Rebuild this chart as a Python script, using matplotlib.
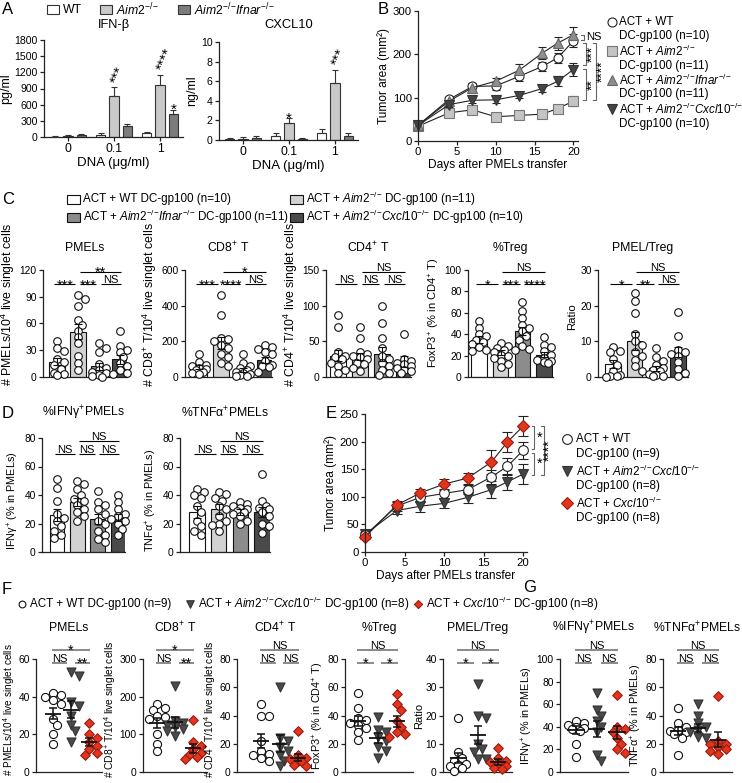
import numpy as np
import matplotlib
matplotlib.use("Agg")
import matplotlib.pyplot as plt
from matplotlib.patches import Rectangle

plt.rcParams['font.family'] = ['Liberation Sans', 'DejaVu Sans']
plt.rcParams['mathtext.fontset'] = 'custom'
plt.rcParams['mathtext.rm'] = 'Liberation Sans'
plt.rcParams['mathtext.it'] = 'Liberation Sans:italic'
plt.rcParams['mathtext.bf'] = 'Liberation Sans:bold'
plt.rcParams['mathtext.sf'] = 'Liberation Sans'
plt.rcParams['axes.linewidth'] = 0.9
plt.rcParams['axes.edgecolor'] = '#222222'

# ---------------- Panel A data ----------------
dna_doses = ['0', '0.1', '1']
ifnb_wt = [5, 35, 65]
ifnb_wt_err = [5, 30, 30]
ifnb_aim2 = [15, 770, 970]
ifnb_aim2_err = [15, 150, 180]
ifnb_dko = [30, 200, 420]
ifnb_dko_err = [20, 50, 90]
ifnb_stars = [['', '', ''], ['', '***', '****'], ['', '', '*']]
cxcl10_wt = [0.1, 0.45, 0.75]
cxcl10_wt_err = [0.15, 0.25, 0.35]
cxcl10_aim2 = [0.1, 1.7, 5.85]
cxcl10_aim2_err = [0.2, 0.55, 1.3]
cxcl10_dko = [0.2, 0.15, 0.4]
cxcl10_dko_err = [0.2, 0.1, 0.3]
cxcl10_stars = [['', '', ''], ['', '*', '***'], ['', '', '']]

# ---------------- Panel B data ----------------
b_days = [0, 4, 7, 10, 13, 16, 18, 20]
b_wt = [36, 96, 126, 127, 149, 172, 192, 231]
b_wt_err = [4, 6, 8, 9, 10, 10, 12, 15]
b_aim2 = [34, 65, 72, 56, 59, 62, 75, 92]
b_aim2_err = [3, 5, 9, 4, 4, 4, 7, 12]
b_ifnar = [36, 92, 123, 138, 163, 203, 226, 245]
b_ifnar_err = [3, 6, 8, 8, 14, 14, 15, 18]
b_cxcl = [36, 84, 94, 95, 105, 121, 138, 165]
b_cxcl_err = [3, 5, 6, 7, 5, 7, 12, 15]

# ---------------- Panel C data ----------------
c_pmels = [[40, 33, 29, 20, 17, 14, 9, 5, 3, 2],
           [92, 88, 80, 64, 58, 52, 45, 38, 24, 16, 8],
           [38, 33, 28, 15, 10, 8, 6, 4, 2, 1, 0.5],
           [52, 35, 30, 28, 22, 16, 12, 8, 5, 3]]
c_pmels_mean = [17, 51, 12, 20]
c_pmels_sem = [4, 8, 4, 5]
c_cd8 = [[130, 85, 70, 60, 50, 45, 40, 30, 25, 15],
         [460, 350, 220, 215, 200, 180, 160, 130, 110, 80, 60],
         [130, 80, 60, 50, 40, 30, 20, 15, 10, 5, 5],
         [180, 170, 155, 140, 130, 90, 65, 60, 55, 30]]
c_cd8_mean = [55, 190, 40, 95]
c_cd8_sem = [10, 35, 10, 18]
c_cd4 = [[87, 70, 35, 30, 28, 25, 20, 15, 10, 5],
         [70, 55, 35, 32, 30, 28, 25, 20, 18, 12, 8],
         [100, 75, 55, 40, 30, 25, 20, 15, 10, 5, 3],
         [60, 25, 22, 20, 18, 15, 12, 10, 8, 5]]
c_cd4_mean = [30, 29, 32, 22]
c_cd4_sem = [8, 5, 10, 8]
c_treg = [[52, 46, 40, 38, 35, 33, 31, 28, 25, 24],
          [32, 29, 27, 25, 23, 21, 20, 18, 15, 12, 9],
          [70, 62, 55, 49, 46, 43, 38, 35, 29, 26, 25],
          [37, 30, 28, 24, 21, 18, 16, 15, 14, 13]]
c_treg_mean = [35, 23, 43, 21]
c_treg_sem = [3, 2, 4, 2.5]
c_ratio = [[8.4, 7.2, 7.0, 5.0, 3.5, 1.8, 0.5, 0.3, 0.2, 0.1],
           [23.6, 21.4, 17.9, 12.1, 10, 9, 7, 6, 4.7, 3, 1.8],
           [8, 5.5, 4.4, 3.5, 2.6, 2, 1.6, 0.9, 0.5, 0.3, 0.2],
           [18.3, 11.6, 7.5, 6.9, 6.5, 6.0, 4.2, 2.2, 1.0, 0.2]]
c_ratio_mean = [3.7, 10.1, 2.4, 7.0]
c_ratio_sem = [1.2, 2.5, 0.8, 1.5]
c_sig_pmels = ['***', '***', 'NS', '**']
c_sig_cd8 = ['***', '****', 'NS', '*']
c_sig_cd4 = ['NS', 'NS', 'NS', 'NS']
c_sig_treg = ['*', '***', '****', 'NS']
c_sig_ratio = ['*', '**', 'NS', 'NS']

# ---------------- Panel D data ----------------
d_ifng = [[51, 45, 36, 27, 24, 22, 18, 15, 12, 10],
          [50, 48, 44, 40, 37, 36, 33, 30, 28, 25, 22],
          [43, 35, 33, 30, 27, 22, 20, 15, 12, 9, 7],
          [40, 35, 30, 27, 25, 23, 22, 20, 16, 12]]
d_ifng_mean = [26, 35, 23, 24]
d_ifng_sem = [4.5, 3, 3.5, 2.5]
d_tnfa = [[44, 42, 40, 38, 32, 28, 22, 18, 15, 12],
          [42, 41, 38, 36, 32, 30, 25, 22, 20, 19, 15],
          [35, 34, 32, 31, 30, 29, 28, 27, 25, 22, 20],
          [55, 36, 32, 31, 30, 28, 25, 20, 18, 13]]
d_tnfa_mean = [28, 30, 28, 28]
d_tnfa_sem = [4, 3.5, 2, 3.5]
d_sig = ['NS', 'NS', 'NS', 'NS']

# ---------------- Panel E data ----------------
e_days = [0, 4, 7, 10, 13, 16, 18, 20]
e_wt = [30, 83, 99, 106, 113, 136, 155, 184]
e_wt_err = [4, 8, 8, 8, 8, 12, 15, 15]
e_dko = [32, 75, 83, 88, 99, 113, 127, 141]
e_dko_err = [5, 7, 10, 8, 10, 15, 15, 18]
e_cxcl = [27, 85, 107, 123, 134, 163, 199, 228]
e_cxcl_err = [3, 8, 8, 10, 10, 22, 18, 18]

# ---------------- Panel F / G data ----------------
f_pmels = [[42, 41, 40, 38, 36, 28, 25, 20, 15],
           [53, 51, 37, 35, 30, 25, 22, 16],
           [26, 20, 18, 16, 14, 12, 10, 9]]
f_pmels_mean = [31, 33, 16]
f_pmels_sem = [3, 4.5, 2]
f_cd8 = [[180, 170, 165, 150, 145, 140, 100, 75, 55],
         [228, 135, 130, 125, 120, 115, 110, 95],
         [138, 80, 70, 60, 50, 45, 40, 35]]
f_cd8_mean = [131, 132, 63]
f_cd8_sem = [13, 14, 12]
f_cd4 = [[48, 40, 40, 22, 15, 13, 12, 10, 8],
         [60, 24, 22, 18, 15, 12, 8, 4],
         [29, 12, 10, 9, 8, 7, 5, 4]]
f_cd4_mean = [22, 20, 10]
f_cd4_sem = [5, 6, 2.5]
f_treg = [[56, 45, 38, 37, 35, 33, 31, 28, 23],
          [39, 30, 28, 25, 22, 18, 15, 10],
          [55, 48, 44, 36, 32, 28, 27, 25]]
f_treg_mean = [36, 24, 36]
f_treg_sem = [3.5, 3.5, 4]
f_ratio = [[19, 7, 5, 4, 3, 2.5, 2, 1.5, 0.5],
           [31, 20, 19, 10, 8, 7, 4.5, 4.5],
           [8.5, 5, 4, 3.5, 3, 2, 1.5, 1]]
f_ratio_mean = [4.9, 13, 3.6]
f_ratio_sem = [1.8, 3.2, 1]
g_ifng = [[45, 43, 42, 40, 39, 38, 36, 25, 13],
          [70, 55, 50, 45, 40, 35, 15, 10],
          [68, 40, 38, 35, 30, 25, 20, 17]]
g_ifng_mean = [37, 38, 35]
g_ifng_sem = [3.5, 7, 6]
g_tnfa = [[45, 35, 32, 30, 29, 28, 27, 24, 12],
          [48, 40, 35, 32, 30, 28, 25, 24],
          [54, 22, 20, 20, 18, 16, 15, 13]]
g_tnfa_mean = [29, 31, 23]
g_tnfa_sem = [3, 3, 5]
f_sig_pmels = ['NS', '**', '*']
f_sig_cd8 = ['NS', '**', '*']
f_sig_cd4 = ['NS', 'NS', 'NS']
f_sig_treg = ['*', '*', 'NS']
f_sig_ratio = ['*', '*', 'NS']
g_sig = ['NS', 'NS', 'NS']

# ======================================================================
W, H = 742, 783
fig = plt.figure(figsize=(W / 100, H / 100), dpi=100)

TICK_FS = 7.4
NS_FS = 8
STAR_FS = 10.5
TITLE_FS = 8.8
KO = r'^{{-}/{-}}'
PLUS = r'$^{{+}}$'


def add_ax(L, T, R, B, tick_fs=TICK_FS):
    ax = fig.add_axes([L / W, 1 - B / H, (R - L) / W, (B - T) / H])
    ax.spines['top'].set_visible(False)
    ax.spines['right'].set_visible(False)
    ax.tick_params(direction='out', length=3, width=0.9, labelsize=tick_fs, pad=1.5, color='#222222')
    ax.patch.set_alpha(0)
    return ax


def title_at(ax, T, B, y_px, text, fs=TITLE_FS):
    ax.text(0.5, 1 + (T - y_px) / (B - T), text, transform=ax.transAxes,
            ha='center', va='center', fontsize=fs, clip_on=False)


def swarm(vals, ppx, ppy, d=6.0, step=3.5):
    vals = np.asarray(vals, float)
    order = np.argsort(-vals, kind='stable')
    placed = []
    offs = np.zeros(len(vals))
    cand = [0.0, step, -step, 2 * step, -2 * step]
    for i in order:
        yp = vals[i] * ppy
        best, bestd = 0.0, -1.0
        for c in cand:
            md = min([np.hypot(c - px, yp - py) for px, py in placed], default=1e9)
            if md >= d:
                best = c
                break
            if md > bestd:
                best, bestd = c, md
        offs[i] = best
        placed.append((best, yp))
    return offs / ppx


def sig_text(ax, x1, x2, y, label, color='k', lw=0.8):
    ax.plot([x1, x2], [y, y], color=color, lw=lw, clip_on=False, solid_capstyle='butt')
    xc = (x1 + x2) / 2
    if label.startswith('*'):
        ax.annotate(label, (xc, y), xytext=(0, 1.0 - 0.44 * STAR_FS), textcoords='offset points',
                    ha='center', va='baseline', fontsize=STAR_FS, annotation_clip=False)
    else:
        ax.annotate(label, (xc, y), xytext=(0, 0.9), textcoords='offset points',
                    ha='center', va='baseline', fontsize=NS_FS, annotation_clip=False)


# ---------------- Panel A ----------------
a_cols = ['white', '#c9c9c9', '#7c7c7c']


def panel_A(L, T, R, B, c1, c3, series, errs, stars, ymax, ystep, title, ylabel):
    s = (c3 - c1) / 2
    ax = add_ax(L, T, R, B, tick_fs=7.6)
    ax.set_xlim((L - c1) / s, 2 + (R - c3) / s)
    ax.set_ylim(0, ymax)
    ax.set_yticks(np.arange(0, ymax + 1e-9, ystep))
    x = np.arange(3)
    offs = [-0.29, 0.0, 0.29]
    for k in range(3):
        e = np.array(errs[k], float)
        ax.bar(x + offs[k], series[k], width=0.2, color=a_cols[k], edgecolor='#333333', lw=0.8, zorder=2)
        ax.errorbar(x + offs[k], series[k], yerr=[np.zeros(3), e], fmt='none', ecolor='#333333',
                    elinewidth=0.8, capsize=2.5, capthick=0.8, zorder=3)
        for i in range(3):
            st = stars[k][i]
            if not st:
                continue
            top = series[k][i] + e[i]
            if len(st) == 1:
                ax.annotate(st, (x[i] + offs[k], top), xytext=(0, 1.5 - 0.44 * 11), textcoords='offset points',
                            ha='center', va='baseline', fontsize=11, annotation_clip=False)
            else:
                ax.annotate(st, (x[i] + offs[k], top), xytext=(3, 2), textcoords='offset points',
                            ha='left', va='baseline', rotation=67, rotation_mode='anchor',
                            fontsize=11, annotation_clip=False)
    ax.set_xticks(x)
    ax.set_xticklabels(dna_doses, fontsize=8.8)
    ax.set_xlabel('DNA (μg/ml)', fontsize=9.5, labelpad=1)
    ax.set_ylabel(ylabel, fontsize=9, labelpad=2)
    title_at(ax, T, B, 25, title, fs=9.3)
    return ax


panel_A(44, 40, 183, 137, 68, 160,
        [ifnb_wt, ifnb_aim2, ifnb_dko], [ifnb_wt_err, ifnb_aim2_err, ifnb_dko_err],
        ifnb_stars, 1800, 300, 'IFN-β', 'pg/ml')
panel_A(219, 42, 358, 140, 243, 335,
        [cxcl10_wt, cxcl10_aim2, cxcl10_dko], [cxcl10_wt_err, cxcl10_aim2_err, cxcl10_dko_err],
        cxcl10_stars, 10, 2, 'CXCL10', 'ng/ml')

# ---------------- Panel B ----------------
axB = add_ax(418, 11, 578, 141, tick_fs=8.2)
axB.set_xlim(0, 20.6)
axB.set_ylim(0, 300)
axB.set_xticks([0, 5, 10, 15, 20])
axB.set_yticks([0, 100, 200, 300])
b_styles = [
    (b_wt, b_wt_err, dict(marker='o', mfc='white', mec='#222222', ms=6.5)),
    (b_aim2, b_aim2_err, dict(marker='s', mfc='#c4c4c4', mec='#777777', ms=6.5)),
    (b_ifnar, b_ifnar_err, dict(marker='^', mfc='#8e8e8e', mec='#666666', ms=7)),
    (b_cxcl, b_cxcl_err, dict(marker='v', mfc='#444444', mec='#333333', ms=7)),
]
for vals, err, st in b_styles:
    eb = axB.errorbar(b_days, vals, yerr=err, color='#222222', lw=0.8, elinewidth=0.8,
                      capsize=3, capthick=0.8, mew=0.8, **st)
    for a in eb.get_children():
        a.set_clip_on(False)
axB.set_xlabel('Days after PMELs transfer', fontsize=8.6, labelpad=1)
axB.set_ylabel('Tumor area (mm²)', fontsize=8.6, labelpad=2)


def bracket(ax, x, y1, y2, label, tx, rot, fs=10, tick=0.35, color='#666666'):
    ax.plot([x - tick, x, x, x - tick], [y1, y1, y2, y2], color=color, lw=0.8, clip_on=False)
    if rot:
        ax.text(tx, (y1 + y2) / 2, label, rotation=90, ha='center', va='center', fontsize=fs, clip_on=False)
    else:
        ax.text(tx, (y1 + y2) / 2, label, ha='left', va='center', fontsize=fs, clip_on=False)


bracket(axB, 21.4, 245, 233, 'NS', 21.6, False, fs=8)
bracket(axB, 21.6, 226, 175, '***', 22.5, True)
bracket(axB, 21.6, 166, 95, '**', 22.5, True)
bracket(axB, 22.9, 226, 95, '****', 23.8, True)

# ---------------- Panels C & D (bar + dots) ----------------
bar_cols = ['white', '#d2d2d2', '#8c8c8c', '#4a4a4a']


def bar_dot(L, T, R, B, c1, cn, ymax, ystep, groups, means, sems, title, title_y, ylabel,
            sigs, lv1, lv2, lab_y=0.5, ylab_fs=8.0):
    n = len(groups)
    s = (cn - c1) / (n - 1)
    ax = add_ax(L, T, R, B)
    ax.set_xlim((L - c1) / s, (n - 1) + (R - cn) / s)
    ax.set_ylim(0, ymax)
    ax.set_yticks(np.arange(0, ymax + 1e-9, ystep))
    ax.set_xticks([])
    x = np.arange(n)
    ax.bar(x, means, width=0.72, color=bar_cols, edgecolor='#111111', lw=0.8, zorder=2)
    ppy = (B - T) / ymax
    for i, vals in enumerate(groups):
        offs = swarm(vals, s, ppy, d=6.0, step=3.5)
        ax.scatter(i + offs, vals, s=30, facecolor='white', edgecolor='#111111', lw=0.8,
                   zorder=3, clip_on=False)
    ax.errorbar(x, means, yerr=sems, fmt='none', ecolor='#111111', elinewidth=0.8,
                capsize=3, capthick=0.8, zorder=4)
    pairs = [(0, 1, lv1), (1, 2, lv1), (2, 3, lv1), (1, 3, lv2)]
    for (i, j, lv), lab in zip(pairs, sigs):
        left = i - 0.12 if i == 0 else i + 0.08
        right = j + 0.05 if j == n - 1 else j - 0.12
        sig_text(ax, left, right, lv * ymax, lab)
    title_at(ax, T, B, title_y, title)
    ax.set_ylabel(ylabel, fontsize=ylab_fs, labelpad=2)
    ax.yaxis.label.set_y(lab_y)
    return ax


CT, CB = 270, 377
LV1, LV2 = 0.865, 0.98
bar_dot(43, CT, 127, CB, 57, 120, 120, 30, c_pmels, c_pmels_mean, c_pmels_sem, 'PMELs', 248,
        r'# PMELs/10$^4$ live singlet cells', c_sig_pmels, LV1, LV2, 0.68, 8.9)
bar_dot(185, CT, 272, CB, 199, 265, 600, 200, c_cd8, c_cd8_mean, c_cd8_sem, 'CD8' + PLUS + ' T', 248,
        '# CD8' + PLUS + r' T/10$^4$ live singlet cells', c_sig_cd8, LV1, LV2, 0.68, 8.9)
bar_dot(326, CT, 411, CB, 338, 404, 150, 50, c_cd4, c_cd4_mean, c_cd4_sem, 'CD4' + PLUS + ' T', 248,
        '# CD4' + PLUS + r' T/10$^4$ live singlet cells', c_sig_cd4, LV1, LV2, 0.68, 8.9)
bar_dot(468, CT, 553, CB, 479, 544, 100, 20, c_treg, c_treg_mean, c_treg_sem, '%Treg', 248,
        'FoxP3' + PLUS + ' (% in CD4' + PLUS + ' T)', c_sig_treg, LV1, LV2, 0.6, 8.0)
bar_dot(598, CT, 688, CB, 613, 678, 30, 10, c_ratio, c_ratio_mean, c_ratio_sem, 'PMEL/Treg', 248,
        'Ratio', c_sig_ratio, LV1, LV2, 0.56, 8.2)

DT, DB = 438, 552
bar_dot(42, DT, 125, DB, 57, 118, 80, 20, d_ifng, d_ifng_mean, d_ifng_sem, '%IFNγ' + PLUS + 'PMELs', 413,
        'IFNγ' + PLUS + ' (% in PMELs)', d_sig, 0.86, 0.97, 0.45, 7.8)
bar_dot(180, DT, 270, DB, 197, 262, 80, 20, d_tnfa, d_tnfa_mean, d_tnfa_sem, '%TNFα' + PLUS + 'PMELs', 413,
        'TNFα' + PLUS + ' (% in PMELs)', d_sig, 0.86, 0.97, 0.45, 7.8)

# ---------------- Panel E ----------------
axE = add_ax(365, 414, 527, 552, tick_fs=8.2)
axE.set_xlim(0, 20.5)
axE.set_ylim(0, 250)
axE.set_xticks([0, 5, 10, 15, 20])
axE.set_yticks([0, 50, 100, 150, 200, 250])
RED = '#e2351e'
RED_EDGE = '#9a1a10'
e_styles = [
    (e_dko, e_dko_err, dict(marker='v', mfc='#444444', mec='#333333', ms=7)),
    (e_wt, e_wt_err, dict(marker='o', mfc='white', mec='#222222', ms=7)),
    (e_cxcl, e_cxcl_err, dict(marker='D', mfc=RED, mec=RED_EDGE, ms=6)),
]
for vals, err, st in e_styles:
    eb = axE.errorbar(e_days, vals, yerr=err, color='#222222', lw=0.8, elinewidth=0.8,
                      capsize=3.5, capthick=0.8, mew=0.8, **st)
    for a in eb.get_children():
        a.set_clip_on(False)
axE.set_xlabel('Days after PMELs transfer', fontsize=8.6, labelpad=1)
axE.set_ylabel('Tumor area (mm²)', fontsize=8.6, labelpad=2)
bracket(axE, 21.4, 228, 187, '*', 21.8, False, fs=10.5, tick=0.3)
bracket(axE, 21.4, 180, 140, '*', 21.8, False, fs=10.5, tick=0.3)
bracket(axE, 22.6, 228, 140, '****', 23.4, True, fs=10, tick=0.3)

# ---------------- Panels F & G (dot + mean/SEM) ----------------
f_markers = [dict(marker='o', facecolor='white', edgecolor='#111111', s=34),
             dict(marker='v', facecolor='#4a4a4a', edgecolor='#333333', s=42),
             dict(marker='D', facecolor=RED, edgecolor=RED_EDGE, s=24)]


def dot_mean(L, T, R, B, c1, cn, ymax, ystep, groups, means, sems, title, ylabel, sigs,
             lab_fs=7.4, lab_y=0.55):
    n = len(groups)
    s = (cn - c1) / (n - 1)
    ax = add_ax(L, T, R, B)
    ax.set_xlim((L - c1) / s, (n - 1) + (R - cn) / s)
    ax.set_ylim(0, ymax)
    ax.set_yticks(np.arange(0, ymax + 1e-9, ystep))
    ax.set_xticks([])
    ppy = (B - T) / ymax
    for i, vals in enumerate(groups):
        offs = swarm(vals, s, ppy, d=6.5, step=4.0)
        ax.scatter(i + offs, vals, lw=0.8, zorder=3, clip_on=False, **f_markers[i])
    x = np.arange(n)
    ax.hlines(means, x - 0.42, x + 0.42, color='#111111', lw=1.3, zorder=4)
    ax.errorbar(x, means, yerr=sems, fmt='none', ecolor='#111111', elinewidth=1.1,
                capsize=3, capthick=1.1, zorder=4)
    pairs = [(0, 1, 0.965), (1, 2, 0.965), (0, 2, 1.08)]
    for (i, j, lv), lab in zip(pairs, sigs):
        left = i - 0.05 if i == 0 else i + 0.2
        right = j + 0.05 if j == n - 1 else j - 0.2
        sig_text(ax, left, right, lv * ymax, lab, color='#777777', lw=1.2)
    title_at(ax, T, B, 628, title)
    ax.set_ylabel(ylabel, fontsize=lab_fs, labelpad=1)
    ax.yaxis.label.set_y(lab_y)
    return ax


FT, FB = 659, 772
dot_mean(36, FT, 102, FB, 53, 89, 60, 20, f_pmels, f_pmels_mean, f_pmels_sem, 'PMELs',
         r'# PMELs/10$^4$ live singlet cells', f_sig_pmels, lab_fs=7.2)
dot_mean(143, FT, 207, FB, 157, 193, 300, 100, f_cd8, f_cd8_mean, f_cd8_sem, 'CD8' + PLUS + ' T',
         '# CD8' + PLUS + r' T/10$^4$ live singlet cells', f_sig_cd8)
dot_mean(237, FT, 313, FB, 261, 298, 80, 20, f_cd4, f_cd4_mean, f_cd4_sem, 'CD4' + PLUS + ' T',
         '# CD4' + PLUS + r' T/10$^4$ live singlet cells', f_sig_cd4)
dot_mean(345, FT, 413, FB, 358, 397, 80, 20, f_treg, f_treg_mean, f_treg_sem, '%Treg',
         'FoxP3' + PLUS + ' (% in CD4' + PLUS + ' T)', f_sig_treg, lab_fs=7.8, lab_y=0.5)
dot_mean(443, FT, 512, FB, 458, 498, 40, 10, f_ratio, f_ratio_mean, f_ratio_sem, 'PMEL/Treg',
         'Ratio', f_sig_ratio, lab_fs=8, lab_y=0.5)
dot_mean(560, FT, 628, FB, 576, 617, 100, 20, g_ifng, g_ifng_mean, g_ifng_sem, '%IFNγ' + PLUS + 'PMELs',
         'IFNγ' + PLUS + ' (% in PMELs)', g_sig, lab_fs=7.8, lab_y=0.5)
dot_mean(663, FT, 732, FB, 678, 718, 80, 20, g_tnfa, g_tnfa_mean, g_tnfa_sem, '%TNFα' + PLUS + 'PMELs',
         'TNFα' + PLUS + ' (% in PMELs)', g_sig, lab_fs=7.8, lab_y=0.5)

# ---------------- Overlay: letters & legends ----------------
ov = fig.add_axes([0, 0, 1, 1], zorder=10)
ov.set_xlim(0, W)
ov.set_ylim(H, 0)
ov.axis('off')
ov.patch.set_alpha(0)

LET_FS = 12
for lab, (lx, ly) in zip('ABCDEFG', [(2, 9), (378, 9), (2, 200), (2, 413), (326, 413), (2, 589), (523, 587)]):
    ov.text(lx, ly, lab, fontsize=LET_FS, ha='left', va='center')

LEG_FS = 8.4
AIM2 = r'$\mathit{Aim2}' + KO + '$'
IFNAR = r'$\mathit{Aim2}' + KO + r'\mathit{Ifnar}' + KO + '$'
CXDKO = r'$\mathit{Aim2}' + KO + r'\mathit{Cxcl10}' + KO + '$'
CX = r'$\mathit{Cxcl10}' + KO + '$'

# A legend
for (bx, lab, col) in [(47, 'WT', a_cols[0]), (100, AIM2, a_cols[1]), (178, IFNAR, a_cols[2])]:
    ov.add_patch(Rectangle((bx, 5), 12, 9, facecolor=col, edgecolor='#333333', lw=0.8))
    ov.text(bx + 16, 10, lab, fontsize=8.8, ha='left', va='center')

# C legend
c_leg = [(67, 199, 'ACT + WT DC-gp100 (n=10)', bar_cols[0]),
         (290, 199, 'ACT + ' + AIM2 + ' DC-gp100 (n=11)', bar_cols[1]),
         (67, 217, 'ACT + ' + IFNAR + ' DC-gp100 (n=11)', bar_cols[2]),
         (290, 217, 'ACT + ' + CXDKO + ' DC-gp100 (n=10)', bar_cols[3])]
for bx, by, lab, col in c_leg:
    ov.add_patch(Rectangle((bx, by - 4.5), 13, 9, facecolor=col, edgecolor='#111111', lw=0.8))
    ov.text(bx + 16, by, lab, fontsize=LEG_FS, ha='left', va='center')

# B legend
b_leg = [(22, 'ACT + WT', b_styles[0][2]),
         (51, 'ACT + ' + AIM2, b_styles[1][2]),
         (80, 'ACT + ' + IFNAR, b_styles[2][2]),
         (109, 'ACT + ' + CXDKO, b_styles[3][2])]
b_ns = ['DC-gp100 (n=10)', 'DC-gp100 (n=11)', 'DC-gp100 (n=11)', 'DC-gp100 (n=10)']
for (ry, lab, st), nlab in zip(b_leg, b_ns):
    ov.plot([612], [ry], linestyle='none', mew=0.8, **st)
    ov.text(619, ry, lab, fontsize=LEG_FS, ha='left', va='center')
    ov.text(619, ry + 14.5, nlab, fontsize=LEG_FS, ha='left', va='center')

# E legend
e_leg = [(439, 'ACT + WT', e_styles[1][2], 'DC-gp100 (n=9)'),
         (471, 'ACT + ' + CXDKO, e_styles[0][2], 'DC-gp100 (n=8)'),
         (503, 'ACT + ' + CX, e_styles[2][2], 'DC-gp100 (n=8)')]
for ry, lab, st, nlab in e_leg:
    ov.plot([567], [ry], linestyle='none', mew=0.8, **st)
    ov.text(576, ry, lab, fontsize=LEG_FS, ha='left', va='center')
    ov.text(576, ry + 15, nlab, fontsize=LEG_FS, ha='left', va='center')

# F legend
f_leg = [(22, 'ACT + WT DC-gp100 (n=9)', f_markers[0]),
         (190, 'ACT + ' + CXDKO + ' DC-gp100 (n=8)', f_markers[1]),
         (418, 'ACT + ' + CX + ' DC-gp100 (n=8)', f_markers[2])]
for mx, lab, st in f_leg:
    ov.scatter([mx], [604], lw=0.8, marker=st['marker'], facecolor=st['facecolor'],
               edgecolor=st['edgecolor'], s=st['s'] * 0.7)
    ov.text(mx + 8, 604, lab, fontsize=8.4, ha='left', va='center')

fig.savefig('out.png', dpi=100)
